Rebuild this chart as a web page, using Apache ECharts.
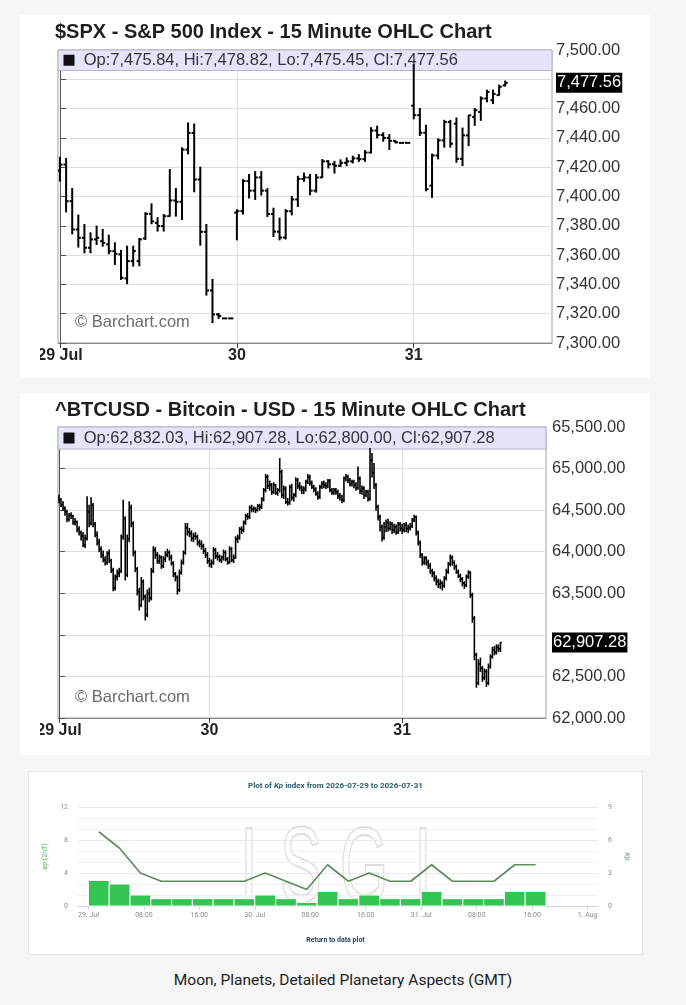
<!DOCTYPE html>
<html><head><meta charset="utf-8">
<script src="https://cdn.jsdelivr.net/npm/echarts@6/dist/echarts.min.js"></script>
<style>
html,body{margin:0;padding:0;background:#f6f6f6;width:686px;height:1005px;overflow:hidden;font-family:'Liberation Sans',Arial,sans-serif;}
.panel{position:absolute;background:#fff;}
.chart{position:absolute;}
#foot{position:absolute;left:0;width:686px;top:971px;text-align:center;font-family:Roboto,'Noto Sans',sans-serif;font-size:15.5px;color:#222;}
</style></head><body>
<div class="panel" style="left:20px;top:15px;width:630px;height:363px"></div>
<div class="chart" id="spx" style="left:40px;top:15px;width:610px;height:363px"></div>
<div class="panel" style="left:20px;top:393px;width:630px;height:362px"></div>
<div class="chart" id="btc" style="left:40px;top:393px;width:610px;height:362px"></div>
<div class="panel" style="left:28px;top:771px;width:613px;height:182px;border:1px solid #e6e6e6"></div>
<div class="chart" id="kp" style="left:29px;top:772px;width:613px;height:182px"></div>
<div id="foot">Moon, Planets, Detailed Planetary Aspects (GMT)</div>
<script>
// ---------------- S&P 500 (15 min OHLC: [open, high, low, close]) ----------------
const spxTitle = '$SPX - S&P 500 Index - 15 Minute OHLC Chart';
const spxDayLabels = ['29 Jul', '30', '31'];
const spxDayStart = [0, 29, 58];
const spxJul29 = [
[7417.7,7426.8,7410.5,7421.8],[7421.8,7425.9,7389.5,7396.8],[7396.8,7405.5,7374.5,7377.5],
[7377.5,7387.3,7365.5,7371.8],[7371.8,7380.9,7361.6,7365.0],[7365.0,7375.2,7361.6,7370.7],
[7370.7,7379.8,7367.3,7371.8],[7369.5,7377.5,7366.1,7368.4],[7367.3,7373.6,7360.9,7362.7],
[7362.7,7368.4,7353.6,7360.9],[7360.5,7363.2,7343.4,7344.5],[7344.1,7366.1,7340.5,7355.9],
[7355.9,7366.1,7352.5,7362.7],[7355.9,7371.4,7352.7,7370.7],[7371.4,7388.9,7370.7,7388.2],
[7388.2,7395.0,7381.4,7383.0],[7382.0,7385.5,7376.4,7379.8],[7379.8,7387.7,7376.4,7386.6],
[7386.6,7418.4,7386.6,7397.3],[7397.3,7405.5,7386.6,7396.4],[7396.4,7433.2,7384.3,7432.0],
[7432.0,7450.2,7429.1,7443.4],[7443.4,7449.5,7403.2,7411.6],[7411.6,7420.0,7366.8,7375.9],
[7375.9,7380.9,7332.7,7335.9],[7335.9,7343.4,7313.9,7319.5],[7319.5,7320.2,7316.8,7318.4],
[7316.8,7316.8,7316.8,7316.8],[7316.8,7316.8,7316.8,7316.8]
];
const spxJul30 = [
[7389,7391,7370.4,7390],[7390,7411.5,7388,7410.5],[7410.5,7415,7399,7404],
[7404,7417,7398,7413],[7413,7417,7401,7404],[7404,7405.3,7386.4,7388],
[7388,7392,7372.7,7376],[7376,7385.3,7370.4,7372],[7372,7391,7371,7390],
[7390,7400,7387.5,7398],[7398,7413.8,7393.2,7412],[7412,7416,7410.4,7413],
[7413,7415,7401.2,7404],[7404,7415,7403,7413],[7413,7425.2,7413,7424],
[7424,7424.5,7419.5,7422],[7422,7424,7416,7421],[7421,7425,7420.6,7423],
[7423,7426.3,7421,7424],[7424,7427.5,7422.9,7426],[7426,7428.6,7424,7425.5],
[7425.5,7431.4,7424,7430],[7430,7447,7429.8,7445],[7445,7448,7440,7442],
[7442,7443.5,7437.8,7440],[7440,7442.3,7432.1,7438],[7438,7438,7436.6,7437],
[7436.6,7436.6,7436.6,7436.6],[7436.6,7436.6,7436.6,7436.6]
];
const spxJul31 = [
[7462,7490,7453,7455.5],[7455.5,7460,7441.7,7443.5],[7443.5,7448.6,7403.9,7405],
[7407.4,7429,7399.4,7428],[7428,7439.4,7425.7,7438.3],[7438.3,7452,7433.7,7450.8],
[7450.8,7452,7433.7,7436],[7449.7,7453.6,7423.4,7425.7],[7425.7,7446.7,7421.1,7441.7],
[7441.7,7455.4,7434.8,7455.4],[7454.3,7460,7448.6,7458.9],[7457.7,7468,7452,7466.9],
[7466.9,7472.6,7464.6,7471.4],[7465.7,7472.6,7463.4,7470],[7469.2,7476,7469.2,7474.9],
[7475.84,7478.82,7475.45,7477.56]
];

// ---------------- Bitcoin (15 min OHLC: [open, high, low, close]) ----------------
const btcTitle = '^BTCUSD - Bitcoin - USD - 15 Minute OHLC Chart';
const btcDayLabels = ['29 Jul', '30', '31'];
const btcDayStart = [0, 75, 171];
const btcJul29 = [
[64650,64680,64590,64630],[64630,64640,64540,64560],[64560,64600,64500,64520],[64520,64540,64440,64480],
[64480,64500,64360,64390],[64390,64460,64370,64440],[64440,64470,64400,64430],[64430,64440,64330,64350],
[64350,64400,64320,64360],[64360,64370,64240,64270],[64270,64300,64200,64230],[64230,64250,64140,64190],
[64190,64230,64060,64080],[64080,64200,64050,64160],[64160,64660,64140,64480],[64480,64560,64300,64340],
[64340,64650,64320,64560],[64560,64580,64300,64330],[64330,64350,64180,64200],[64200,64240,64080,64110],
[64110,64150,64000,64030],[64030,64060,63930,63960],[63960,64010,63880,63900],[63900,63940,63840,63870],
[63870,64000,63850,63980],[63980,64020,63870,63890],[63890,63910,63750,63780],[63780,63800,63530,63560],
[63560,63720,63540,63700],[63700,63780,63660,63740],[63740,63800,63700,63770],[63770,64200,63750,64180],
[64180,64620,64150,64400],[64400,64420,63660,63720],[63720,64200,63700,64150],[64150,64600,64120,64530],
[64530,64560,64300,64340],[64340,64360,63950,63990],[63990,64010,63760,63790],[63790,63810,63480,63520],
[63520,63560,63300,63360],[63360,63690,63340,63640],[63640,63660,63420,63460],[63460,63480,63180,63240],
[63240,63540,63220,63500],[63500,63560,63400,63440],[63440,63800,63420,63770],[63770,64060,63750,64020],
[64020,64050,63920,63960],[63960,63990,63860,63890],[63890,63960,63860,63930],[63930,63950,63800,63830],
[63830,63940,63810,63910],[63910,64000,63880,63960],[63960,64030,63940,63990],[63990,64010,63900,63930],
[63930,63960,63840,63860],[63860,63880,63700,63730],[63730,63750,63650,63690],[63690,63710,63490,63540],
[63540,63780,63520,63750],[63750,63900,63730,63870],[63870,64010,63850,63990],[63990,64340,63970,64290],
[64290,64340,64200,64240],[64240,64280,64180,64220],[64220,64250,64130,64160],[64160,64220,64120,64190],
[64190,64230,64150,64180],[64180,64200,64080,64110],[64110,64140,64060,64090],[64090,64130,64030,64070],
[64070,64090,63980,64010],[64010,64040,63930,63960],[63960,63990,63860,63890]
];
const btcJul30 = [
[63890,63920,63820,63850],[63850,63900,63810,63870],[63870,64050,63850,64020],[64020,64040,63920,63950],
[63950,63990,63900,63940],[63940,63960,63880,63900],[63900,63950,63870,63930],[63930,64020,63900,63990],
[63990,64010,63890,63910],[63910,63930,63850,63870],[63870,64060,63860,64030],[64030,64050,63880,63900],
[63900,63960,63870,63930],[63930,64180,63920,64150],[64150,64200,64110,64170],[64170,64290,64150,64270],
[64270,64300,64220,64260],[64260,64370,64240,64350],[64350,64450,64330,64430],[64430,64460,64390,64420],
[64420,64550,64400,64530],[64530,64560,64480,64510],[64510,64540,64480,64520],[64520,64530,64470,64500],
[64500,64570,64490,64550],[64550,64570,64500,64540],[64540,64650,64520,64630],[64630,64760,64610,64740],
[64740,64930,64720,64900],[64900,64920,64760,64790],[64790,64850,64740,64800],[64800,64820,64690,64720],
[64720,64830,64700,64800],[64800,64810,64690,64710],[64710,64760,64680,64740],[64740,65120,64720,64960],
[64960,64980,64650,64680],[64680,64790,64640,64760],[64760,64780,64580,64600],[64600,64640,64560,64590],
[64590,64800,64570,64780],[64780,64810,64620,64650],[64650,64700,64610,64680],[64680,64890,64660,64860],
[64860,64880,64760,64790],[64790,64830,64740,64770],[64770,64790,64700,64740],[64740,64780,64700,64750],
[64750,64860,64730,64840],[64840,64930,64820,64900],[64900,64920,64800,64830],[64830,64850,64760,64780],
[64780,64800,64720,64750],[64750,64770,64680,64700],[64700,64720,64630,64660],[64660,64800,64640,64780],
[64780,64840,64760,64820],[64820,64850,64770,64800],[64800,64830,64760,64790],[64790,64870,64770,64850],
[64850,64870,64720,64740],[64740,64760,64690,64710],[64710,64760,64690,64740],[64740,64760,64690,64720],
[64720,64740,64640,64670],[64670,64700,64620,64650],[64650,64680,64590,64620],[64620,64900,64600,64880],
[64880,64930,64850,64900],[64900,64920,64830,64860],[64860,64880,64790,64820],[64820,64860,64790,64840],
[64840,64860,64770,64800],[64800,64830,64740,64770],[64770,65020,64750,64880],[64880,64900,64700,64730],
[64730,64790,64690,64760],[64760,64780,64640,64680],[64680,64740,64660,64720],[64720,64740,64610,64640],
[64640,65240,64620,65100],[65100,65180,64900,64950],[64950,65060,64760,64800],[64800,64820,64500,64540],
[64540,64560,64380,64420],[64420,64440,64250,64300],[64300,64320,64130,64170],[64170,64350,64150,64300],
[64300,64380,64240,64350],[64350,64390,64250,64280],[64280,64360,64260,64330],[64330,64350,64220,64260],
[64260,64330,64230,64300],[64300,64320,64210,64240],[64240,64350,64220,64330],[64330,64350,64250,64280]
];
const btcJul31 = [
[64280,64330,64220,64260],[64260,64340,64240,64320],[64320,64350,64240,64280],[64280,64320,64230,64290],
[64290,64340,64260,64310],[64310,64400,64290,64380],[64380,64440,64360,64420],[64420,64430,64200,64230],
[64230,64250,64080,64110],[64110,64130,63930,63960],[63960,63980,63840,63870],[63870,63940,63850,63920],
[63920,63940,63840,63870],[63870,63900,63800,63830],[63830,63860,63740,63770],[63770,63790,63700,63740],
[63740,63760,63650,63680],[63680,63710,63600,63640],[63640,63670,63570,63610],[63610,63660,63560,63620],
[63620,63640,63540,63590],[63590,63700,63570,63680],[63680,63790,63660,63760],[63760,63870,63740,63850],
[63850,63960,63830,63930],[63930,63950,63840,63870],[63870,63890,63790,63820],[63820,63840,63740,63760],
[63760,63780,63690,63710],[63710,63730,63640,63670],[63670,63690,63590,63620],[63620,63640,63560,63600],
[63600,63720,63580,63700],[63700,63770,63680,63750],[63750,63760,63450,63480],[63480,63500,63150,63200],
[63200,63220,62700,62760],[62760,62780,62370,62420],[62420,62700,62400,62650],[62650,62720,62560,62600],
[62600,62620,62440,62480],[62480,62590,62460,62560],[62560,62580,62380,62420],[62420,62650,62400,62620],
[62620,62760,62600,62740],[62740,62850,62720,62820],[62820,62860,62760,62790],[62790,62880,62770,62850],
[62850,62880,62800,62830],[62832.03,62907.28,62800.00,62907.28]
];

// ---------------- Kp / ap (3-hour intervals, hours from 2026-07-29 00:00 UTC) ----------------
const kpTitleRich = '{a|Plot of }{b|Kp}{a| index from 2026-07-29 to 2026-07-31}';
const kpStartHour = [0,3,6,9,12,15,18,21,24,27,30,33,36,39,42,45,48,51,54,57,60,63];
const kpValues = [2.33,2,1,0.67,0.67,0.67,0.67,0.67,1,0.67,0.33,1.33,0.67,1,0.67,0.67,1.33,0.67,0.67,0.67,1.33,1.33];
const apValues = [9,7,4,3,3,3,3,3,4,3,2,5,3,4,3,3,5,3,3,3,5,5];
const kpTickHours = [0,8,16,24,32,40,48,56,64,72];
const kpDayNames = ['29. Jul','30. Jul','31. Jul','1. Aug'];

// ---------------- helpers ----------------
const FONT = "'Liberation Sans', Arial, sans-serif";
function fmt(v){ return Number(v).toLocaleString('en-US',{minimumFractionDigits:2, maximumFractionDigits:2}); }
function buildRows(days, starts){
  const out = [];
  days.forEach((d,k)=>d.forEach((r,j)=>out.push([starts[k]+j, r[0], r[1], r[2], r[3]])));
  return out;
}
function ohlcRender(tick, lw){
  return function(params, api){
    const x = api.value(0);
    const o = api.coord([x, api.value(1)]), h = api.coord([x, api.value(2)]);
    const l = api.coord([x, api.value(3)]), c = api.coord([x, api.value(4)]);
    const st = {stroke:'#000', lineWidth:lw};
    return {type:'group', children:[
      {type:'line', shape:{x1:h[0], y1:h[1]-0.5, x2:l[0], y2:l[1]+0.5}, style:st},
      {type:'line', shape:{x1:o[0]-tick, y1:o[1], x2:o[0], y2:o[1]}, style:st},
      {type:'line', shape:{x1:c[0], y1:c[1], x2:c[0]+tick, y2:c[1]}, style:st}
    ]};
  };
}
function ohlcOption(cfg){
  const last = cfg.last;
  const header = 'Op:' + fmt(last[0]) + ', Hi:' + fmt(last[1]) + ', Lo:' + fmt(last[2]) + ', Cl:' + fmt(last[3]);
  return {
    animation:false,
    title:{text:cfg.title, left:15, top:7, padding:0,
      textStyle:{fontFamily:FONT, fontSize:20, fontWeight:'bold', color:'#1e1e1e'}},
    grid:{left:18, right:cfg.right, top:cfg.top, bottom:cfg.bottom, show:true, borderColor:'#a0a0a0', borderWidth:1,
      containLabel:false, outerBoundsMode:'none'},
    xAxis:{type:'value', min:cfg.xmin, max:cfg.xmax,
      axisLine:{show:true, lineStyle:{color:'#888'}},
      axisTick:{show:true, customValues:cfg.dayStart, length:5, lineStyle:{color:'#444'}},
      axisLabel:{customValues:cfg.dayStart, formatter:v=>cfg.dayLabels[cfg.dayStart.indexOf(v)] || '',
        fontFamily:FONT, fontWeight:'bold', fontSize:16, color:'#222', margin:5},
      splitLine:{show:true, lineStyle:{color:'#dedede'}}},
    yAxis:{type:'value', position:'right', min:cfg.ymin, max:cfg.ymax, interval:cfg.yint,
      axisLine:{show:true, lineStyle:{color:'#555'}},
      axisTick:{show:true, inside:false, length:6, lineStyle:{color:'#555'}},
      axisLabel:{fontFamily:FONT, fontSize:16.5, color:'#333', margin:cfg.labelGap,
        formatter:v=> Math.abs(v - last[3]) < cfg.yint*0.5 ? '' : fmt(v)},
      splitLine:{show:true, lineStyle:{color:'#dedede'}}},
    series:[
      {type:'line', data:[], z:1, silent:true, clip:false,
        markArea:{silent:true,
          itemStyle:{color:'#e4e4fb', borderColor:'#b4b4cc', borderWidth:1},
          label:{show:true, position:'insideLeft', distance:6,
            formatter:'{sq|}  ' + header,
            rich:{sq:{backgroundColor:'#111', width:11, height:11}},
            fontFamily:FONT, fontSize:16.5, color:'#333'},
          data:[[{yAxis:cfg.boxFrom}, {yAxis:cfg.ymax}]]}},
      {type:'line', data:[], z:6, silent:true, clip:false,
        markLine:{silent:true, symbol:'none', animation:false,
          lineStyle:{color:'rgba(0,0,0,0)', width:1},
          label:{show:true, position:'end', distance:cfg.labelGap, formatter:fmt(last[3]),
            backgroundColor:'#000', color:'#fff', padding:[2,1,1,1], fontFamily:FONT, fontSize:16.5},
          data:[{yAxis:last[3]}]}},
      {type:'custom', z:5, clip:true, renderItem:ohlcRender(cfg.tick, cfg.lw),
        data:cfg.data, encode:{x:0, y:[1,2,3,4]}}
    ],
    graphic:[{type:'text', left:35, top:cfg.wmTop, silent:true,
      style:{text:'\u00A9 Barchart.com', fill:'#6a6a6a', fontSize:16.5, fontFamily:FONT}}]
  };
}

// ---------------- charts ----------------
const spxRows = buildRows([spxJul29, spxJul30, spxJul31], spxDayStart);
echarts.init(document.getElementById('spx'), null, {renderer:'canvas'}).setOption(ohlcOption({
  title:spxTitle, dayLabels:spxDayLabels, dayStart:spxDayStart, data:spxRows,
  last:spxJul31[spxJul31.length-1], xmin:-0.33, xmax:80.67, ymin:7300, ymax:7500, yint:20,
  boxFrom:7486, right:98, top:35, bottom:35, tick:2.6, lw:2, wmTop:299, labelGap:4
}));

const btcRows = buildRows([btcJul29, btcJul30, btcJul31], btcDayStart);
echarts.init(document.getElementById('btc'), null, {renderer:'canvas'}).setOption(ohlcOption({
  title:btcTitle, dayLabels:btcDayLabels, dayStart:btcDayStart, data:btcRows,
  last:btcJul31[btcJul31.length-1], xmin:-0.5, xmax:242.7, ymin:62000, ymax:65500, yint:500,
  boxFrom:65235, right:104, top:34, bottom:37, tick:1.4, lw:1.6, wmTop:296, labelGap:6
}));

const kpBars = kpStartHour.map((h,i)=>[h, h+3, kpValues[i]]);
const apLine = kpStartHour.map((h,i)=>[h+1.5, apValues[i]]);
const kpLabelColor = '#8a8a8a';
const kpText = 'Roboto, "Noto Sans", sans-serif';
function isgi(ch, x){
  return {type:'text', x:x, y:100, scaleX:0.58, silent:true, z:0,
    style:{text:ch, align:'center', verticalAlign:'middle', fontSize:108, fontFamily:FONT,
      fill:'rgba(0,0,0,0)', stroke:'#dcdcdc', lineWidth:1.8}};
}
echarts.init(document.getElementById('kp'), null, {renderer:'canvas'}).setOption({
  animation:false,
  title:[
    {text:kpTitleRich, left:'center', top:10, padding:0,
      textStyle:{rich:{
        a:{fontSize:8, fontWeight:'bold', color:'#2a5b6a', fontFamily:kpText},
        b:{fontSize:8, fontWeight:'bold', fontStyle:'italic', color:'#2a5b6a', fontFamily:kpText}}}},
    {text:'Return to data plot', left:'center', top:165, padding:0,
      textStyle:{fontSize:7, fontWeight:'bold', color:'#1d3d5c', fontFamily:kpText}}
  ],
  grid:{left:49, right:44, top:35, bottom:48, containLabel:false, outerBoundsMode:'none'},
  xAxis:{type:'value', min:-1.5, max:73.5,
    axisLine:{show:true, lineStyle:{color:'#ccd6eb'}},
    axisTick:{show:true, customValues:kpTickHours, length:4, lineStyle:{color:'#ccd6eb'}},
    axisLabel:{customValues:kpTickHours, fontSize:7, color:kpLabelColor, fontFamily:kpText, margin:6,
      formatter:v=> v % 24 === 0 ? kpDayNames[v/24] : (v % 24 === 8 ? '08:00' : '16:00')},
    splitLine:{show:false}},
  yAxis:[
    {type:'value', min:0, max:12, interval:4, name:'ap (2nT)', nameLocation:'middle', nameRotate:90, nameGap:22,
      nameTextStyle:{color:'#4caf50', fontSize:7, fontFamily:kpText},
      axisLabel:{fontSize:7, color:kpLabelColor, fontFamily:kpText, margin:10},
      axisLine:{show:false}, axisTick:{show:false}, splitLine:{show:false}},
    {type:'value', min:0, max:9, interval:3, position:'right', name:'Kp', nameLocation:'middle', nameRotate:-90, nameGap:20,
      nameTextStyle:{color:'#4caf50', fontSize:7, fontStyle:'italic', fontFamily:kpText},
      axisLabel:{fontSize:7, color:kpLabelColor, fontFamily:kpText, margin:10},
      axisLine:{show:false}, axisTick:{show:false},
      splitLine:{show:true, lineStyle:{color:'#e8e8e8'}},
      minorTick:{show:false, splitNumber:3},
      minorSplitLine:{show:true, lineStyle:{color:'#f0f0f0'}}}
  ],
  series:[
    {type:'custom', yAxisIndex:1, z:2, data:kpBars, encode:{x:[0,1], y:2},
      renderItem:function(params, api){
        const p1 = api.coord([api.value(0), api.value(2)]);
        const p2 = api.coord([api.value(1), 0]);
        return {type:'rect', shape:{x:p1[0], y:p1[1], width:p2[0]-p1[0], height:p2[1]-p1[1]},
          style:{fill:'#34c452', stroke:'#ffffff', lineWidth:1}};
      }},
    {type:'line', yAxisIndex:0, z:3, data:apLine, symbol:'none',
      lineStyle:{color:'#5e8d5c', width:1.6}}
  ],
  graphic:[isgi('I', 220), isgi('S', 272), isgi('G', 335), isgi('I', 394)]
});
</script>
</body></html>
